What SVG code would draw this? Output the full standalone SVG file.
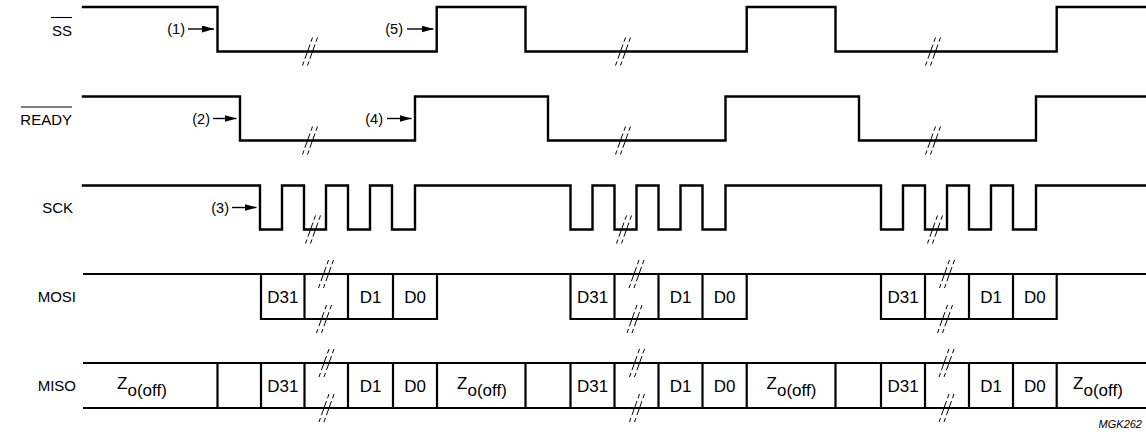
<svg xmlns="http://www.w3.org/2000/svg" xmlns:xlink="http://www.w3.org/1999/xlink" width="1146" height="435" viewBox="0 0 1146 435">
<style>
.sig{fill:none;stroke:#000;stroke-width:2.4;stroke-linejoin:miter;stroke-linecap:square}
.bus{fill:none;stroke:#000;stroke-width:2.2;stroke-linecap:butt}
.lbl{font-family:"Liberation Sans",Arial,sans-serif;font-size:15px;fill:#000;text-anchor:end}
.num{font-family:"Liberation Sans",Arial,sans-serif;font-size:14.5px;fill:#000;text-anchor:end}
.dat{font-family:"Liberation Sans",Arial,sans-serif;font-size:17px;fill:#000;text-anchor:middle}
.brk{fill:none;stroke:#000;stroke-width:1;stroke-dasharray:4.5 3 15 3 4.5}
.arr{fill:none;stroke:#000;stroke-width:1.4}
.ovl{stroke:#000;stroke-width:1.1}
</style>
<defs>
<marker id="ah" viewBox="0 0 12 7" refX="12" refY="3.5" markerWidth="12" markerHeight="7" markerUnits="userSpaceOnUse" orient="auto">
<path d="M0,0 L12,3.5 L0,7 z" fill="#000"/>
</marker>
<g id="bk">
<line class="brk" x1="7.5" y1="-14" x2="-2.5" y2="14"/>
<line class="brk" x1="2.5" y1="-14" x2="-7.5" y2="14"/>
</g>
</defs>
<rect width="1146" height="435" fill="#fff"/>

<g id="labels">
<text class="lbl" x="72" y="36">SS</text>
<line class="ovl" x1="51" y1="17.5" x2="72" y2="17.5"/>
<text class="lbl" x="72" y="125">READY</text>
<line class="ovl" x1="21" y1="107" x2="72" y2="107"/>
<text class="lbl" x="73" y="213">SCK</text>
<text class="lbl" x="76" y="302">MOSI</text>
<text class="lbl" x="76" y="391">MISO</text>
</g>

<g id="ss">
<path class="sig" d="M83,7 H217.5 V51.5 H436.7 V7 H525.5 V51.5 H746.7 V7 H835.5 V51.5 H1056.7 V7 H1146"/>
<use xlink:href="#bk" x="310" y="51.5"/>
<use xlink:href="#bk" x="623" y="51.5"/>
<use xlink:href="#bk" x="933" y="51.5"/>
</g>

<g id="ready">
<path class="sig" d="M83,96.5 H240 V140.5 H415 V96.5 H548 V140.5 H725.5 V96.5 H859 V140.5 H1036 V96.5 H1146"/>
<use xlink:href="#bk" x="310" y="140.5"/>
<use xlink:href="#bk" x="623" y="140.5"/>
<use xlink:href="#bk" x="933" y="140.5"/>
</g>

<g id="sck">
<path class="sig" d="M83,185.5 H260 V229.5 H282 V185.5 H304 V229.5 H326 V185.5 H348 V229.5 H370 V185.5 H392 V229.5 H415 V185.5 H570.5 V229.5 H592.5 V185.5 H614.5 V229.5 H636.5 V185.5 H658.5 V229.5 H680.5 V185.5 H702.5 V229.5 H725.5 V185.5 H881 V229.5 H903 V185.5 H925 V229.5 H947 V185.5 H969 V229.5 H991 V185.5 H1013 V229.5 H1036 V185.5 H1146"/>
<use xlink:href="#bk" x="313" y="229.5"/>
<use xlink:href="#bk" x="624" y="229.5"/>
<use xlink:href="#bk" x="935" y="229.5"/>
</g>

<g id="mosi">
<path class="bus" d="M83,274 H1146"/>
<path class="bus" d="M261,274 V319 H437 V274 M304.5,274 V319 M348,274 V319 M393,274 V319"/>
<path class="bus" d="M570.5,274 V319 H746.7 V274 M614.5,274 V319 M658.5,274 V319 M702.5,274 V319"/>
<path class="bus" d="M881,274 V319 H1056.7 V274 M925,274 V319 M969,274 V319 M1013,274 V319"/>
<use xlink:href="#bk" x="326" y="274"/>
<use xlink:href="#bk" x="324" y="319"/>
<use xlink:href="#bk" x="636.5" y="274"/>
<use xlink:href="#bk" x="634.5" y="319"/>
<use xlink:href="#bk" x="947" y="274"/>
<use xlink:href="#bk" x="945" y="319"/>
<text class="dat" x="282.8" y="302.8">D31</text>
<text class="dat" x="370.5" y="302.8">D1</text>
<text class="dat" x="415" y="302.8">D0</text>
<text class="dat" x="592.5" y="302.8">D31</text>
<text class="dat" x="680.5" y="302.8">D1</text>
<text class="dat" x="724.6" y="302.8">D0</text>
<text class="dat" x="903" y="302.8">D31</text>
<text class="dat" x="991" y="302.8">D1</text>
<text class="dat" x="1034.8" y="302.8">D0</text>
</g>

<g id="miso">
<path class="bus" d="M83,363 H1146 M83,408 H1146"/>
<path class="bus" d="M217.5,363 V408 M261,363 V408 M304.5,363 V408 M348,363 V408 M393,363 V408 M437,363 V408 M525.5,363 V408 M570.5,363 V408 M614.5,363 V408 M658.5,363 V408 M702.5,363 V408 M746.7,363 V408 M835.5,363 V408 M881,363 V408 M925,363 V408 M969,363 V408 M1013,363 V408 M1056.7,363 V408"/>
<use xlink:href="#bk" x="326.5" y="363"/>
<use xlink:href="#bk" x="326.5" y="408"/>
<use xlink:href="#bk" x="637" y="363"/>
<use xlink:href="#bk" x="637" y="408"/>
<use xlink:href="#bk" x="946.5" y="363"/>
<use xlink:href="#bk" x="946.5" y="408"/>
<text class="dat" x="142" y="389">Z<tspan dy="7">o(off)</tspan></text>
<text class="dat" x="482" y="389">Z<tspan dy="7">o(off)</tspan></text>
<text class="dat" x="791.5" y="389">Z<tspan dy="7">o(off)</tspan></text>
<text class="dat" x="1098" y="389">Z<tspan dy="7">o(off)</tspan></text>
<text class="dat" x="282.8" y="391.8">D31</text>
<text class="dat" x="370.5" y="391.8">D1</text>
<text class="dat" x="415" y="391.8">D0</text>
<text class="dat" x="592.5" y="391.8">D31</text>
<text class="dat" x="680.5" y="391.8">D1</text>
<text class="dat" x="724.6" y="391.8">D0</text>
<text class="dat" x="903" y="391.8">D31</text>
<text class="dat" x="991" y="391.8">D1</text>
<text class="dat" x="1034.8" y="391.8">D0</text>
</g>

<g id="connectors">
<text class="num" x="185" y="34">(1)</text>
<line class="arr" x1="188" y1="29" x2="214" y2="29" marker-end="url(#ah)"/>
<text class="num" x="403" y="34">(5)</text>
<line class="arr" x1="407" y1="29" x2="433.5" y2="29" marker-end="url(#ah)"/>
<text class="num" x="210" y="123.5">(2)</text>
<line class="arr" x1="213" y1="118.5" x2="236.5" y2="118.5" marker-end="url(#ah)"/>
<text class="num" x="383" y="123.5">(4)</text>
<line class="arr" x1="387" y1="118.5" x2="411.5" y2="118.5" marker-end="url(#ah)"/>
<text class="num" x="229" y="212.5">(3)</text>
<line class="arr" x1="232" y1="207.5" x2="256.5" y2="207.5" marker-end="url(#ah)"/>
</g>

<text x="1142" y="428" font-family="'Liberation Sans',Arial,sans-serif" font-size="11" font-style="italic" text-anchor="end">MGK262</text>
</svg>
